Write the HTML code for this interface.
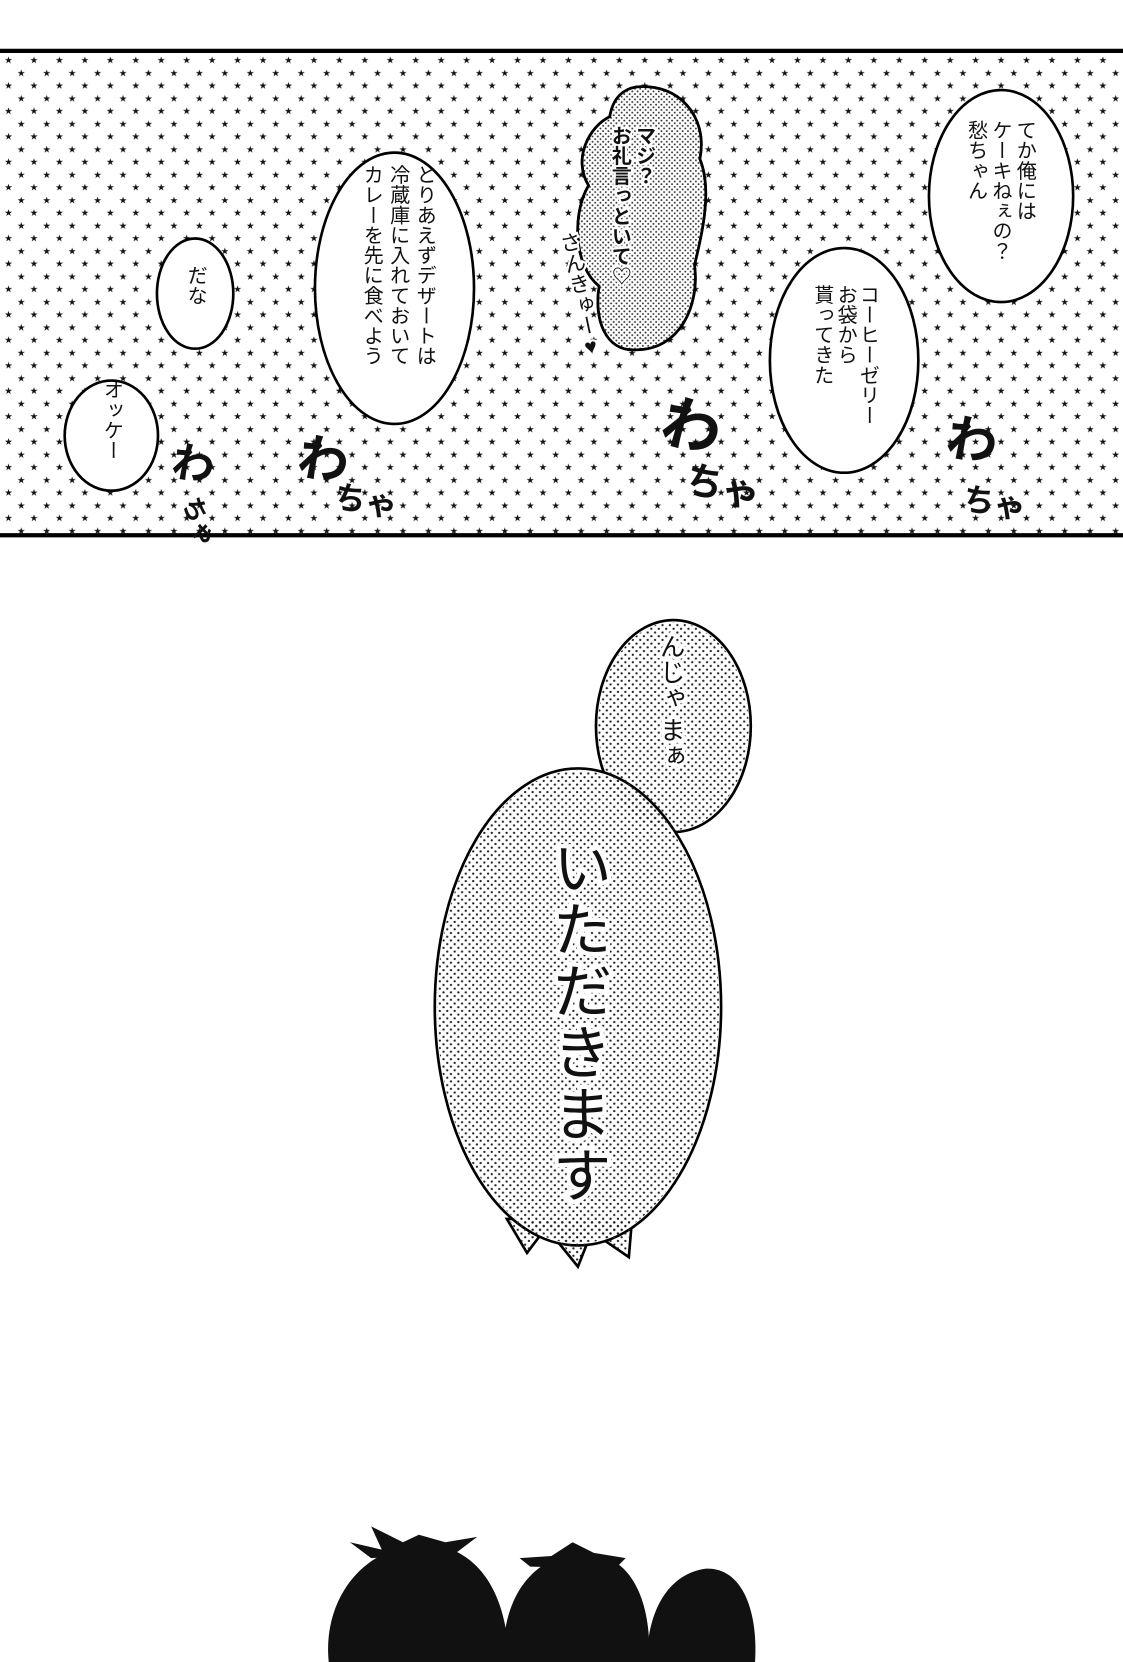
<!DOCTYPE html>
<html><head><meta charset="utf-8">
<style>
html,body{margin:0;padding:0;background:#fff;}
svg{display:block;}
text{font-family:"Liberation Sans","Noto Sans CJK JP",sans-serif;fill:#111;}
.v{writing-mode:vertical-rl;}
</style></head>
<body>
<svg width="1123" height="1662" viewBox="0 0 1059 1568" preserveAspectRatio="none" xmlns="http://www.w3.org/2000/svg">
<defs>
<pattern id="stars" width="24" height="24" patternUnits="userSpaceOnUse">
<text x="4" y="12" font-size="9" style="font-family:'DejaVu Sans',sans-serif">★</text>
<text x="16" y="24" font-size="9" style="font-family:'DejaVu Sans',sans-serif">★</text>
</pattern>
<pattern id="dots" width="7" height="7" patternUnits="userSpaceOnUse">
<circle cx="1.75" cy="1.75" r="1.1" fill="#222"/>
<circle cx="5.25" cy="5.25" r="1.1" fill="#222"/>
</pattern>
<pattern id="dots2" width="5" height="5" patternUnits="userSpaceOnUse">
<circle cx="1.25" cy="1.25" r="0.9" fill="#333"/>
<circle cx="3.75" cy="3.75" r="0.9" fill="#333"/>
</pattern>
</defs>
<rect width="1059" height="1568" fill="#fff"/>
<rect x="0" y="48" width="1059" height="457" fill="url(#stars)"/>
<line x1="0" y1="48" x2="1059" y2="48" stroke="#000" stroke-width="4"/>
<line x1="0" y1="505" x2="1059" y2="505" stroke="#000" stroke-width="4"/>

<g stroke="#000" stroke-width="2.5">
<ellipse cx="944" cy="185" rx="68" ry="100" fill="#fff"/>
<ellipse cx="796" cy="340" rx="70" ry="106" fill="#fff"/>
<ellipse cx="372" cy="272" rx="75" ry="128" fill="#fff"/>
<ellipse cx="184" cy="277" rx="36" ry="52" fill="#fff"/>
<ellipse cx="105" cy="411" rx="44" ry="52" fill="#fff"/>
<path d="M600,82 C640,78 668,110 660,150 C672,180 662,220 655,250 C660,290 640,330 600,330 C570,332 560,300 565,270 C540,250 540,200 555,175 C540,150 555,120 575,110 C578,92 588,84 600,82 Z" fill="#fff"/>
</g>
<path d="M600,82 C640,78 668,110 660,150 C672,180 662,220 655,250 C660,290 640,330 600,330 C570,332 560,300 565,270 C540,250 540,200 555,175 C540,150 555,120 575,110 C578,92 588,84 600,82 Z" fill="url(#dots2)" stroke="#000" stroke-width="2.5"/>

<g font-size="19">
<text class="v" x="966" y="113">てか俺には</text>
<text class="v" x="943" y="113">ケーキねぇの？</text>
<text class="v" x="920" y="113">愁ちゃん</text>
<text class="v" x="818" y="268">コーヒーゼリー</text>
<text class="v" x="797" y="268">お袋から</text>
<text class="v" x="775" y="268">貰ってきた</text>
<text class="v" x="400" y="155">とりあえずデザートは</text>
<text class="v" x="375" y="155">冷蔵庫に入れておいて</text>
<text class="v" x="350" y="155">カレーを先に食べよう</text>
<text class="v" x="184" y="250">だな</text>
<text class="v" x="105" y="358">オッケー</text>
</g>
<g font-size="19" font-weight="bold">
<text class="v" x="607" y="118" style="paint-order:stroke" stroke="#fff" stroke-width="4">マジ？</text>
<text class="v" x="584" y="118" style="paint-order:stroke" stroke="#fff" stroke-width="4">お礼言っといて♡</text>
</g>
<text class="v" x="545" y="218" font-size="20" transform="rotate(-12 545 270)" style="paint-order:stroke" stroke="#fff" stroke-width="4">さんきゅー♥</text>

<g font-weight="bold" font-size="44">
<text x="620" y="425" transform="rotate(15 660 420)" font-size="56">わ</text>
<text x="655" y="465" transform="rotate(15 660 420)" font-size="36">ちゃ</text>
<text x="280" y="450" transform="rotate(10 300 440)" font-size="48">わ</text>
<text x="320" y="475" transform="rotate(10 300 440)" font-size="30">ちゃ</text>
<text x="890" y="430" transform="rotate(10 900 430)" font-size="48">わ</text>
<text x="915" y="478" transform="rotate(10 900 430)" font-size="30">ちゃ</text>
<text x="160" y="450" transform="rotate(10 170 450)" font-size="40">わ</text>
<text x="170" y="485" transform="rotate(70 180 480)" font-size="24">ちゃ</text>
</g>

<g>
<path d="M478,1150 L497,1182 L515,1158 L545,1195 L558,1162 L593,1186 L596,1150 Z" fill="#fff" stroke="#000" stroke-width="2.5"/>
<ellipse cx="635" cy="685" rx="73" ry="100" fill="#fff" stroke="#000" stroke-width="2.5"/>
<ellipse cx="545" cy="950" rx="135" ry="225" fill="#fff" stroke="#000" stroke-width="2.5"/>
<ellipse cx="635" cy="685" rx="71" ry="98" fill="url(#dots)"/>
<ellipse cx="545" cy="950" rx="133" ry="223" fill="url(#dots)"/>
<path d="M480,1150 L497,1180 L515,1156 L545,1192 L558,1160 L591,1184 L594,1150 Z" fill="url(#dots)"/>
</g>
<text class="v" x="632" y="598" font-size="24" style="paint-order:stroke" stroke="#fff" stroke-width="6">んじゃ まぁ</text>
<text class="v" x="545" y="790" font-size="56" letter-spacing="2" style="paint-order:stroke" stroke="#fff" stroke-width="8">いただきます</text>

<g fill="#111">
<path d="M310,1568 C305,1520 330,1470 385,1458 C440,1450 478,1490 480,1568 Z"/>
<path d="M350,1470 L330,1455 L360,1462 L350,1440 L380,1455 L395,1448 L420,1455 L450,1450 L430,1465 Z"/>
<path d="M475,1568 C472,1510 500,1470 545,1465 C595,1462 615,1510 612,1568 Z"/>
<path d="M500,1478 L490,1470 L520,1468 L540,1455 L560,1465 L590,1470 L580,1480 Z"/>
<path d="M610,1568 C610,1520 630,1485 665,1480 C700,1478 715,1520 712,1568 Z"/>
</g>
</svg>
</body></html>
